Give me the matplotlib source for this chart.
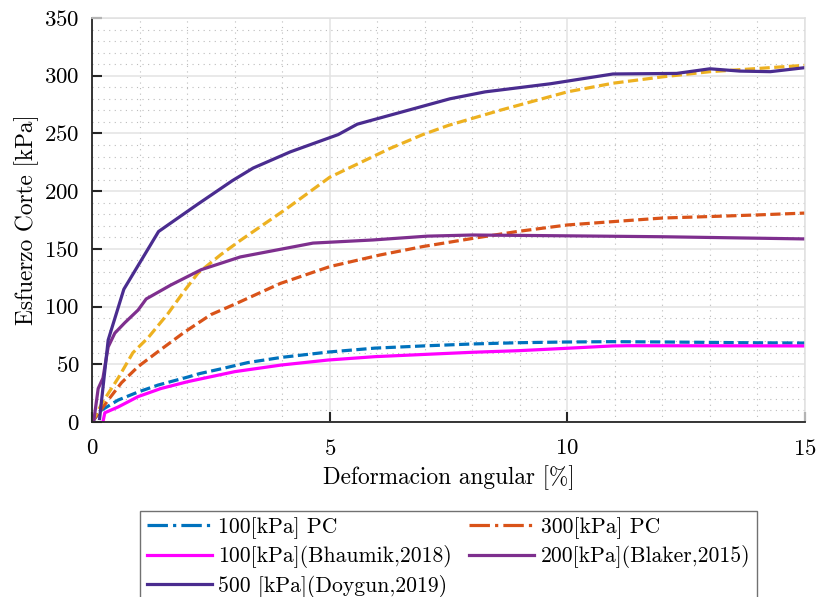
import matplotlib
matplotlib.use('Agg')
import matplotlib.pyplot as plt
from matplotlib.lines import Line2D
from matplotlib.ticker import MultipleLocator

plt.rcParams['font.family'] = 'cmr10'
plt.rcParams['mathtext.fontset'] = 'cm'
plt.rcParams['axes.formatter.use_mathtext'] = True

# datos
x_100pc = [0, 0.19, 0.55, 0.97, 1.39, 2.02, 2.27, 2.71, 3.28, 3.99, 4.97, 5.95, 7.02, 8.0, 8.98, 9.96, 10.95, 12.1, 13.7, 15]
y_100pc = [0, 10, 19, 26, 32, 39, 42, 46, 51.5, 56, 60.6, 64, 66, 67.6, 68.7, 69.3, 69.6, 69.3, 68.7, 68.4]

x_300pc = [0, 0.34, 0.62, 0.97, 1.39, 1.95, 2.5, 3.0, 3.96, 5.0, 6.06, 6.96, 8.0, 8.94, 10.0, 10.96, 12.0, 13.0, 14.0, 15]
y_300pc = [0, 19, 34, 48, 61, 78, 93, 102, 120, 134.6, 144.7, 152, 159, 165, 170.7, 173.6, 176.7, 178, 179.4, 181]

x_400pc = [0, 0.23, 0.55, 0.86, 1.18, 1.6, 1.95, 2.23, 2.71, 3.11, 4.1, 5.0, 6.27, 6.96, 7.5, 8.58, 10.0, 10.96, 12.0, 13.0, 15]
y_400pc = [0, 17.6, 38, 60, 73, 94, 114, 129, 145, 157, 185, 212, 237, 249, 257, 270, 286, 293.5, 299, 303.5, 309]

x_bhaumik = [0.23, 0.27, 0.55, 0.97, 1.45, 2.02, 3.0, 3.99, 4.97, 5.95, 7.02, 8.0, 8.98, 9.96, 10.95, 11.27, 15]
y_bhaumik = [0, 8, 13, 22, 29, 35, 43.6, 49.4, 53.7, 56.6, 58.6, 60.4, 61.8, 63.8, 65.9, 66.1, 65.9]

x_blaker = [0.04, 0.13, 0.23, 0.34, 0.48, 0.69, 0.97, 1.14, 1.66, 2.3, 3.12, 4.65, 5.91, 7.05, 8.0, 9.43, 12.0, 15]
y_blaker = [1.7, 29, 38, 65, 77, 86, 97, 106.6, 118.7, 132, 143, 155, 157.7, 161, 162, 161.5, 160.5, 158.6]

x_doygun = [0.16, 0.34, 0.55, 0.67, 1.40, 2.2, 2.95, 3.39, 4.17, 5.18, 5.58, 7.53, 8.27, 9.64, 10.96, 12.3, 13.0, 13.63, 14.27, 15]
y_doygun = [3, 71, 99, 115, 165, 188, 209, 220, 234, 249, 258, 280, 286, 293, 301.5, 302, 306, 304, 303.5, 307]

c_blue = '#0072BD'
c_orange = '#D95319'
c_yellow = '#EDB120'
c_mag = '#FF00FF'
c_purple = '#7E2F8E'
c_dark = '#4A2C8F'
lw = 2.3

fig = plt.figure(figsize=(8.16, 5.97), dpi=100)
ax = fig.add_axes([92/816, 1 - 422/597, (805 - 92)/816, (422 - 18)/597])

ax.plot(x_100pc, y_100pc, color=c_blue, lw=lw, dashes=(3.2, 1.4))
ax.plot(x_300pc, y_300pc, color=c_orange, lw=lw, dashes=(3.2, 1.4))
ax.plot(x_400pc, y_400pc, color=c_yellow, lw=lw, dashes=(3.2, 1.4))
ax.plot(x_bhaumik, y_bhaumik, color=c_mag, lw=lw)
ax.plot(x_blaker, y_blaker, color=c_purple, lw=lw)
ax.plot(x_doygun, y_doygun, color=c_dark, lw=lw)

ax.set_xlim(0, 15)
ax.set_ylim(0, 350)
ax.xaxis.set_major_locator(MultipleLocator(5))
ax.xaxis.set_minor_locator(MultipleLocator(1))
ax.yaxis.set_major_locator(MultipleLocator(50))
ax.yaxis.set_minor_locator(MultipleLocator(10))

ax.grid(True, which='major', color='#e3e3e3', lw=1.1, ls='-')
ax.grid(True, which='minor', color='#bcbcbc', lw=0.8, ls=(0, (1, 4)))
ax.set_axisbelow(True)

for s in ['left', 'bottom']:
    ax.spines[s].set_color('#262626')
    ax.spines[s].set_linewidth(1.3)
for s in ['top', 'right']:
    ax.spines[s].set_color('#e0e0e0')
    ax.spines[s].set_linewidth(1.1)

ax.tick_params(which='major', direction='in', length=7, width=1.5, color='#262626',
               labelsize=16.5)
ax.tick_params(axis='x', which='major', pad=12)
ax.tick_params(axis='y', which='major', pad=9)
ax.tick_params(which='minor', length=0)

ax.set_xlabel('Deformacion angular [%]', fontsize=16.8, labelpad=5)
ax.set_ylabel('Esfuerzo Corte [kPa]', fontsize=16.8, labelpad=4)

handles = [
    Line2D([], [], color=c_blue, lw=lw, ls='-.'),
    Line2D([], [], color=c_mag, lw=lw),
    Line2D([], [], color=c_dark, lw=lw),
    Line2D([], [], color=c_orange, lw=lw, ls='-.'),
    Line2D([], [], color=c_purple, lw=lw),
]
labels = ['100[kPa] PC', '100[kPa](Bhaumik,2018)', '500 [kPa](Doygun,2019)',
          '300[kPa] PC', '200[kPa](Blaker,2015)']
leg = fig.legend(handles, labels, ncol=2, loc='upper center',
                 bbox_to_anchor=(448.5/816, 1 - 510.5/597), fontsize=15.6,
                 frameon=True, fancybox=False, handlelength=3.0,
                 labelspacing=0.3, columnspacing=0.8, handletextpad=0.3,
                 borderpad=0.3, borderaxespad=0)
leg.get_frame().set_edgecolor('#4d4d4d')
leg.get_frame().set_linewidth(1.0)

fig.savefig('out.png', dpi=100)
